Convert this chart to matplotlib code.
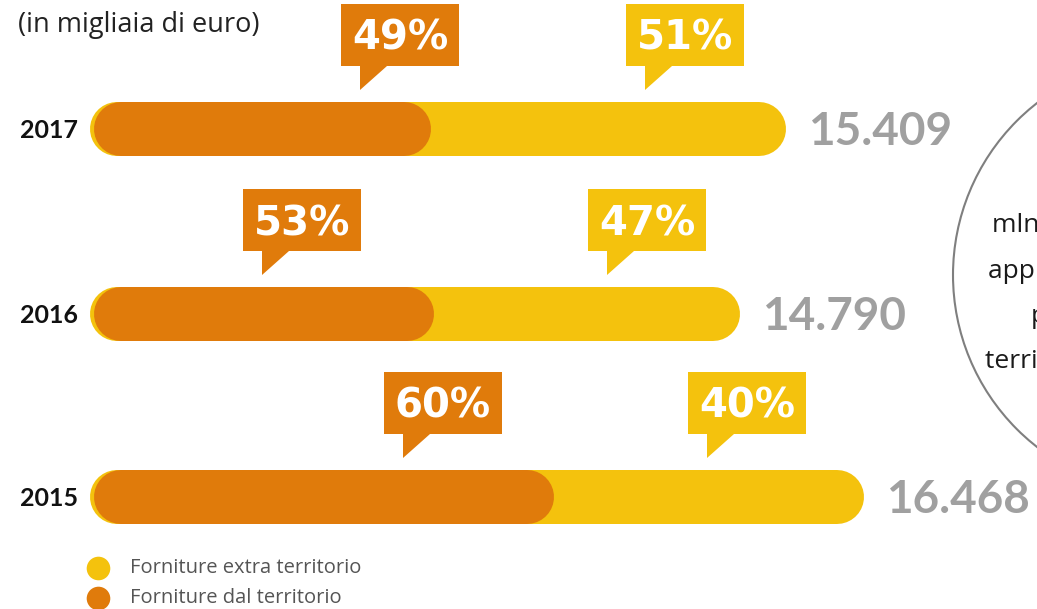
import matplotlib.pyplot as plt
from matplotlib.patches import Polygon, Ellipse

# Forniture (in migliaia di euro)
years = ['2017', '2016', '2015']
totals = [15409, 14790, 16468]
total_labels = ['15.409', '14.790', '16.468']
pct_local = [49, 53, 60]   # Forniture dal territorio
pct_extra = [51, 47, 40]   # Forniture extra territorio

legend_labels = ['Forniture extra territorio', 'Forniture dal territorio']
circle_lines = ['mln di euro di forniture', 'approvvigionate nel', 'proprio',
                'territorio nel triennio']

ORANGE = '#E07B0B'
YELLOW = '#F4C20D'
GREY = '#A0A0A0'

W, H = 1037, 609
BASE = 6000            # value at which bars start
X0 = 90                # pixel column of BASE
SCALE = 774 / 10468    # pixels per thousand euro
BAR_H = 54
row_y = [129, 314, 497]
orange_tail = [360, 262, 403]
yellow_tail = [645, 607, 707]

fig = plt.figure(figsize=(W / 100, H / 100), dpi=100)
ax = fig.add_axes([0, 0, 1, 1])
xmin = BASE - X0 / SCALE
ax.set_xlim(xmin, xmin + W / SCALE)
ax.set_ylim(H, 0)
ax.axis('off')


def px(x):
    return xmin + x / SCALE


def bar(x0, x1, yc, color):
    # pill shape: thick line with round caps
    r = BAR_H / 2 / SCALE
    ax.plot([x0 + r, x1 - r], [yc, yc], color=color, lw=BAR_H * 0.72,
            solid_capstyle='round')


def callout(tx, top, color, text):
    pts = [(tx - 19, top), (tx + 99, top), (tx + 99, top + 62), (tx + 27, top + 62),
           (tx, top + 86), (tx, top + 62), (tx - 19, top + 62)]
    ax.add_patch(Polygon([(px(x), y) for x, y in pts], closed=True, fc=color, ec='none'))
    ax.text(px(tx + 40), top + 46, text, ha='center', va='baseline', color='white',
            fontsize=29, fontweight='bold', family='DejaVu Sans')


for i, yr in enumerate(years):
    yc = row_y[i]
    split = BASE + pct_local[i] / 100 * (totals[i] - BASE)
    bar(BASE, totals[i], yc, YELLOW)
    bar(BASE + 4 / SCALE, split, yc, ORANGE)
    ax.text(px(78), yc + 9, yr, ha='right', va='baseline', fontsize=18,
            fontweight='bold', family='Lato', color='#111111')
    ax.text(totals[i] + 22 / SCALE, yc + 16, total_labels[i], ha='left', va='baseline',
            fontsize=33, fontweight='bold', family='Lato', color=GREY)
    callout(orange_tail[i], yc - 125, ORANGE, f'{pct_local[i]}%')
    callout(yellow_tail[i], yc - 125, YELLOW, f'{pct_extra[i]}%')

ax.text(px(18), 32, '(in migliaia di euro)', ha='left', va='baseline', fontsize=19.5,
        family='Open Sans', color='#222222')

# circle on the right
ax.add_patch(Ellipse((px(1171), 275), 436 / SCALE, 436, fc='none', ec='#7F7F7F', lw=1.5))
for j, (line, x0) in enumerate(zip(circle_lines, [992, 988, 1031, 985])):
    ax.text(px(x0), 232 + j * 45.5, line, ha='left', va='baseline', fontsize=19,
            family='Open Sans', color='#1A1A1A')

# legend
for j, (lab, col) in enumerate(zip(legend_labels, [YELLOW, ORANGE])):
    yy = 568 + j * 30
    ax.plot([px(98)], [yy], 'o', ms=17, color=col, mec='none')
    ax.text(px(130), yy, lab, ha='left', va='center', fontsize=14.5,
            family='Open Sans', color='#555555')

fig.savefig('out.png', dpi=100)
